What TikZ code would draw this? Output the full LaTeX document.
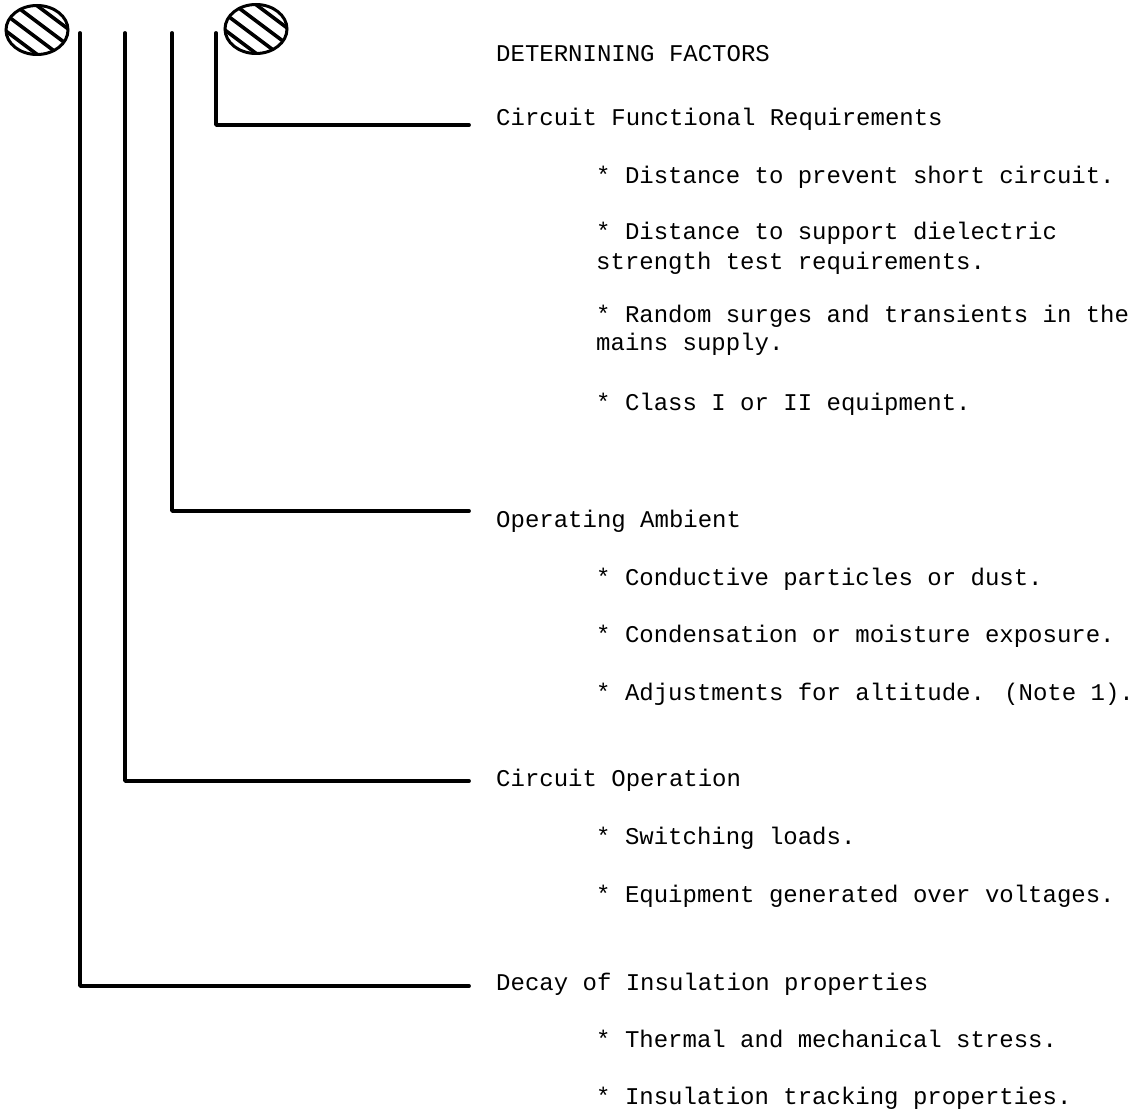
\documentclass[tikz,border=0pt]{standalone}
\usepackage{fontspec}
\usetikzlibrary{calc}
\newfontfamily\courfont{Liberation Mono}
\begin{document}
\begin{tikzpicture}[x=1pt,y=-1pt,
  txt/.style={anchor=base west,inner sep=0pt,font=\courfont\fontsize{24}{28}\selectfont},
  lead/.style={line width=3.8pt,line cap=round,line join=round},
  blob/.style={line width=3pt}]
\useasboundingbox (0,0) rectangle (1134,1110);
% hatched circles
\coordinate (c1) at (37,30);
\coordinate (c2) at (256,29);
\foreach \c in {c1,c2}{
  \begin{scope}
    \clip (\c) ellipse [x radius=31pt, y radius=24.5pt];
    \foreach \d in {-19.5,-6.5,6.5,19.5}
      \draw[line width=3.6pt] ($(\c)+(-0.6*\d-40,0.8*\d-30)$) -- ($(\c)+(-0.6*\d+40,0.8*\d+30)$);
  \end{scope}
  \draw[blob] (\c) ellipse [x radius=31pt, y radius=24.5pt];
}
% labels
\node[txt] (title) at (496,62) {DETERNINING FACTORS};
\node[txt] (cfr) at (496,126) {Circuit Functional Requirements};
\node[txt] (cfr1) at (596,183) {* Distance to prevent short circuit.};
\node[txt] (cfr2) at (596,239) {* Distance to support dielectric};
\node[txt] (cfr2b) at (596,269) {strength test requirements.};
\node[txt] (cfr3) at (596,322) {* Random surges and transients in the};
\node[txt] (cfr3b) at (596,350) {mains supply.};
\node[txt] (cfr4) at (596,410) {* Class I or II equipment.};
\node[txt] (oa) at (496,527) {Operating Ambient};
\node[txt] (oa1) at (596,585) {* Conductive particles or dust.};
\node[txt] (oa2) at (596,642) {* Condensation or moisture exposure.};
\node[txt] (oa3) at (596,700) {* Adjustments for altitude. (Note 1).};
\node[txt] (co) at (496,786) {Circuit Operation};
\node[txt] (co1) at (596,844) {* Switching loads.};
\node[txt] (co2) at (596,902) {* Equipment generated over voltages.};
\node[txt] (dec) at (496,990) {Decay of Insulation properties};
\node[txt] (dec1) at (596,1047) {* Thermal and mechanical stress.};
\node[txt] (dec2) at (596,1104) {* Insulation tracking properties.};
% leaders
\coordinate (t1) at (80,33);
\coordinate (t2) at (125,33);
\coordinate (t3) at (172,33);
\coordinate (t4) at (216,33);
\coordinate (e4) at (469,125);
\coordinate (e3) at (469,511);
\coordinate (e2) at (469,781);
\coordinate (e1) at (469,986);
\draw[lead] (t4) |- (e4);
\draw[lead] (t3) |- (e3);
\draw[lead] (t2) |- (e2);
\draw[lead] (t1) |- (e1);
\end{tikzpicture}
\end{document}
